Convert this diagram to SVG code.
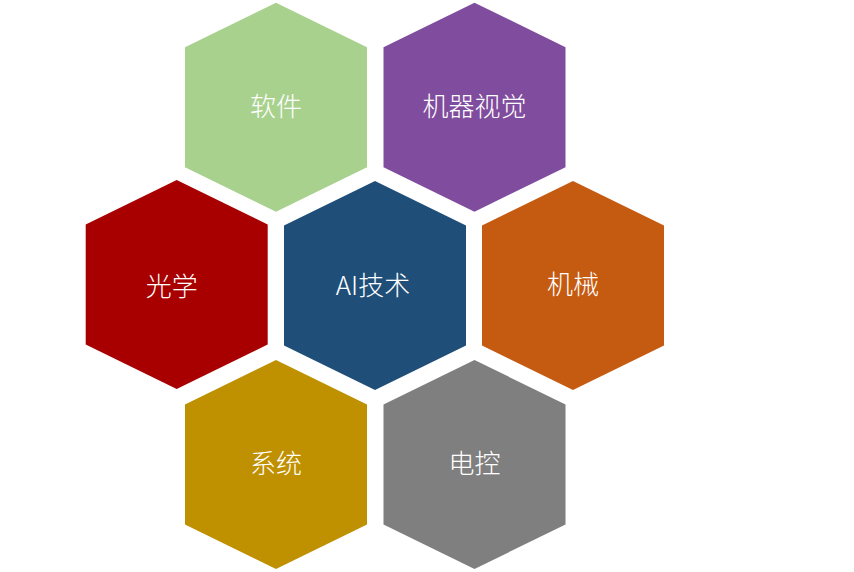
<svg xmlns="http://www.w3.org/2000/svg" width="854" height="572" viewBox="0 0 854 572">
<defs>
<polygon id="hex" points="0,-104.5 91,-60 91,60 0,104.5 -91,60 -91,-60"/>
</defs>
<style>
text{font-family:"Noto Sans CJK SC","Liberation Sans",sans-serif;font-size:26px;font-weight:300;fill:#ffffff;text-anchor:middle;dominant-baseline:central}
</style>
<rect width="854" height="572" fill="#ffffff"/>
<g id="connectors"/>
<g id="node-ruanjian" transform="translate(276,107.2)"><use href="#hex" fill="#A9D18E"/><text x="0" y="-3">软件</text></g>
<g id="node-jiqishijue" transform="translate(474.5,107.2)"><use href="#hex" fill="#7F4C9E"/><text x="0" y="-3">机器视觉</text></g>
<g id="node-guangxue" transform="translate(176.7,284.5)"><use href="#hex" fill="#A80000"/><text x="-5" y="0">光学</text></g>
<g id="node-ai" transform="translate(375,285.5)"><use href="#hex" fill="#1F4E79"/><text x="-2" y="-2">AI技术</text></g>
<g id="node-jixie" transform="translate(573,285.5)"><use href="#hex" fill="#C55A11"/><text x="0" y="-3">机械</text></g>
<g id="node-xitong" transform="translate(276,464.5)"><use href="#hex" fill="#BF9000"/><text x="0" y="-3">系统</text></g>
<g id="node-diankong" transform="translate(474.5,464.5)"><use href="#hex" fill="#7F7F7F"/><text x="0" y="-3">电控</text></g>
</svg>
